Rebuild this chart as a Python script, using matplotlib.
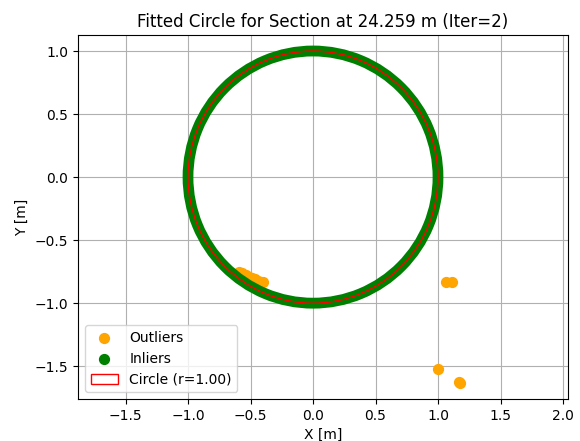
import matplotlib
matplotlib.use("Agg")
import matplotlib.pyplot as plt
from matplotlib.patches import Circle, Annulus

# Datos
seccion_z = 24.259
iteracion = 2
centro = (0.0, 0.0)
radio = 1.00
banda_inliers = (0.957, 1.043)  # radio interior / exterior de la nube de inliers

outliers_x = [-0.59, -0.565, -0.54, -0.515, -0.49, -0.465, -0.44, -0.415, -0.40,
              1.064, 1.114, 1.003, 1.165, 1.172]
outliers_y = [-0.75, -0.763, -0.776, -0.789, -0.801, -0.812, -0.822, -0.83, -0.835,
              -0.83, -0.83, -1.526, -1.625, -1.635]

fig = plt.figure(figsize=(5.8, 4.41), dpi=100)
ax = fig.add_axes([78 / 580, 42 / 441, 490 / 580, 364 / 441])
ax.set_axisbelow(True)

ax.scatter(outliers_x, outliers_y, c="orange", s=50, label="Outliers")
ax.scatter([], [], c="green", s=50, label="Inliers")
anillo = Annulus(centro, banda_inliers[1], banda_inliers[1] - banda_inliers[0],
                 facecolor="green", edgecolor="none")
ax.add_patch(anillo)
ax.add_patch(Circle(centro, radio, fill=False, edgecolor="r",
                    label=f"Circle (r={radio:.2f})"))

ax.set_xlim(-1.88, 2.04)
ax.set_ylim(-1.76, 1.127)
ax.set_xlabel("X [m]")
ax.set_ylabel("Y [m]")
ax.set_title(f"Fitted Circle for Section at {seccion_z:.3f} m (Iter={iteracion})")
ax.grid(True)
ax.legend(loc="lower left")

fig.savefig("out.png", dpi=100)
